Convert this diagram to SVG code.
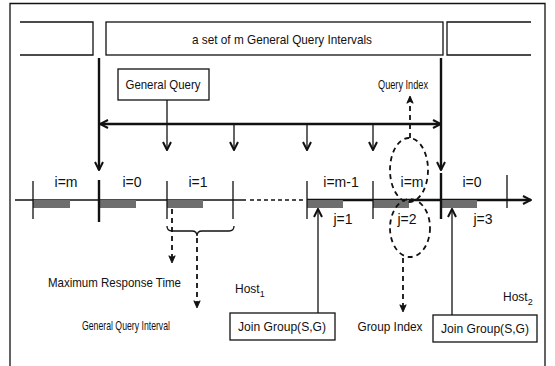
<svg xmlns="http://www.w3.org/2000/svg" width="555" height="366" viewBox="0 0 555 366">
<style>
text{font-family:"Liberation Sans",Arial,sans-serif;fill:#111;}
.lbl{font-size:13px;}
.idx{font-size:14px;text-anchor:middle;}
.box{fill:#fff;stroke:#111;stroke-width:1.3;}
.thick{stroke:#111;stroke-width:2.4;fill:none;}
.thin{stroke:#111;stroke-width:1.3;fill:none;}
.dash{stroke:#111;stroke-width:1.8;fill:none;stroke-dasharray:5,4;}
.gray{fill:#6e6e6e;}
</style>
<defs>
<marker id="v" viewBox="0 0 10 10" refX="9" refY="5" markerWidth="10" markerHeight="10" markerUnits="userSpaceOnUse" orient="auto">
<path d="M1,1 L9,5 L1,9" fill="none" stroke="#111" stroke-width="2"/>
</marker>
<marker id="vs" viewBox="0 0 10 10" refX="9" refY="5" markerWidth="9" markerHeight="9" markerUnits="userSpaceOnUse" orient="auto">
<path d="M1,1.5 L9,5 L1,8.5 L3,5 z" fill="#111" stroke="#111" stroke-width="1"/>
</marker>
</defs>
<rect width="555" height="366" fill="#fff"/>
<g id="frame">
<path d="M10,370 L10,3.5 L545,3.5 L545,370" class="thin"/>
</g>
<g id="top-left-box">
<path d="M20,22 L93,22 L93,55 L20,55" class="box"/>
</g>
<g id="top-mid-box">
<rect x="106" y="22" width="337" height="33" class="box"/>
<text x="282" y="44" class="lbl" text-anchor="middle" textLength="180" lengthAdjust="spacingAndGlyphs">a set of m General Query Intervals</text>
</g>
<g id="top-right-box">
<path d="M531,22 L447,22 L447,55 L531,55" class="box"/>
</g>
<g id="general-query">
<rect x="118" y="69" width="91" height="31" class="box"/>
<text x="163" y="89" class="lbl" text-anchor="middle" textLength="75" lengthAdjust="spacingAndGlyphs">General Query</text>
</g>
<g id="query-index">
<text x="403" y="89" class="lbl" text-anchor="middle" textLength="50" lengthAdjust="spacingAndGlyphs">Query Index</text>
</g>
<g id="timeline">
<path d="M15,200 L246,200" class="thin" stroke-width="1.6"/>
<path d="M250,200 L304,200" class="thin" stroke-width="1.6" stroke-dasharray="4,3"/>
<path d="M307,200 L531,200" class="thick" marker-end="url(#v)"/>
<rect class="gray" x="33" y="200" width="37" height="8"/>
<rect class="gray" x="100" y="200" width="36" height="8"/>
<rect class="gray" x="167" y="200" width="36" height="8"/>
<rect class="gray" x="307" y="200" width="36" height="8"/>
<rect class="gray" x="373" y="200" width="36" height="8"/>
<rect class="gray" x="441" y="200" width="36" height="8"/>
<path d="M33,181 V219 M167,181 V219 M233,181 V219 M307,181 V219 M373,181 V219 M507,175 V208" class="thin"/>
<path d="M99,180 V222 M441,173 V219" class="thick"/>
<text class="idx" x="66" y="187">i=m</text>
<text class="idx" x="132" y="187">i=0</text>
<text class="idx" x="198" y="187">i=1</text>
<text class="idx" x="341" y="187">i=m-1</text>
<text class="idx" x="412" y="187">i=m</text>
<text class="idx" x="472" y="187">i=0</text>
<text class="idx" x="343" y="224">j=1</text>
<text class="idx" x="407" y="224">j=2</text>
<text class="idx" x="483" y="224">j=3</text>
</g>
<g id="ellipses">
<ellipse cx="409" cy="170" rx="19" ry="32" class="dash" stroke-width="1.6" stroke-dasharray="3,3"/>
<ellipse cx="410" cy="228" rx="20" ry="29" class="dash" stroke-width="1.6" stroke-dasharray="3,3"/>
</g>
<g id="max-response">
<text x="48" y="287" class="lbl" textLength="133" lengthAdjust="spacingAndGlyphs">Maximum Response Time</text>
</g>
<g id="gq-interval">
<text x="82" y="330" class="lbl" textLength="88" lengthAdjust="spacingAndGlyphs">General Query Interval</text>
</g>
<g id="brace">
<path d="M167,226 Q167,231 172,231 L192,231 Q197,231 197,236 Q197,231 202,231 L229,231 Q234,231 234,226" class="thin"/>
</g>
<g id="host1">
<text x="235" y="293" font-size="12">Host<tspan dy="4" font-size="9">1</tspan></text>
</g>
<g id="join1">
<rect x="230" y="313" width="105" height="27" class="box"/>
<text x="282" y="331" class="lbl" text-anchor="middle" textLength="88" lengthAdjust="spacingAndGlyphs">Join Group(S,G)</text>
</g>
<g id="group-index">
<text x="390" y="331" class="lbl" text-anchor="middle" textLength="65" lengthAdjust="spacingAndGlyphs">Group Index</text>
</g>
<g id="host2">
<text x="503" y="301" font-size="12">Host<tspan dy="4" font-size="9">2</tspan></text>
</g>
<g id="join2">
<rect x="433" y="315" width="104" height="27" class="box"/>
<text x="485" y="333" class="lbl" text-anchor="middle" textLength="88" lengthAdjust="spacingAndGlyphs">Join Group(S,G)</text>
</g>
<g id="connectors">
<path d="M99,58 V170" class="thick" marker-end="url(#v)"/>
<path d="M441,58 V124" class="thick"/>
<path d="M441,124 V170" class="thick" marker-end="url(#v)"/>
<path d="M271,124 L100,124" class="thick" marker-end="url(#v)"/>
<path d="M271,124 L441,124" class="thick" marker-end="url(#v)"/>
<path d="M167,100 V150" class="thin" stroke-width="1.8" marker-end="url(#v)"/>
<path d="M234,124 V150" class="thin" stroke-width="1.8" marker-end="url(#v)"/>
<path d="M307,124 V150" class="thin" stroke-width="1.8" marker-end="url(#v)"/>
<path d="M373,124 V150" class="thin" stroke-width="1.8" marker-end="url(#v)"/>
<path d="M410,138 V96" class="dash" marker-end="url(#vs)"/>
<path d="M172,209 V263" class="dash" marker-end="url(#vs)"/>
<path d="M197,238 V308" class="dash" marker-end="url(#vs)"/>
<path d="M403,258 V312" class="dash" marker-end="url(#vs)"/>
<path d="M318,313 V209" class="thin" stroke-width="1.6" marker-end="url(#v)"/>
<path d="M452,315 V209" class="thin" stroke-width="1.6" marker-end="url(#v)"/>
</g>
</svg>
